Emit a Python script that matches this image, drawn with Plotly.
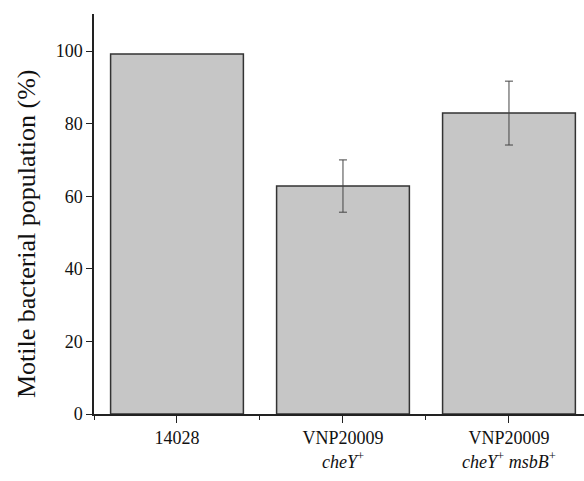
import plotly.graph_objects as go

categories = ["14028", "VNP20009<br><i>cheY</i><sup>+</sup>", "VNP20009<br><i>cheY</i><sup>+</sup> <i>msbB</i><sup>+</sup>"]
values = [99.2, 62.8, 82.9]
errors = [0, 7.2, 8.8]
yticks = [0, 20, 40, 60, 80, 100]

xpos = list(range(len(categories)))

fig = go.Figure()
fig.add_trace(go.Bar(
    x=xpos, y=values, width=0.8,
    marker=dict(color="#c6c6c6", line=dict(color="#333333", width=1.5)),
))
ex = [x for x, e in zip(xpos, errors) if e > 0]
ey = [v for v, e in zip(values, errors) if e > 0]
ee = [e for e in errors if e > 0]
fig.add_trace(go.Scatter(
    x=ex, y=ey, mode="markers", marker=dict(size=1, color="rgba(0,0,0,0)"),
    error_y=dict(type="data", array=ee, visible=True, color="#444444", thickness=1, width=4),
))

fig.update_layout(
    width=584, height=481,
    margin=dict(l=94, r=0, t=14, b=67),
    plot_bgcolor="white", paper_bgcolor="white",
    font=dict(family="Liberation Serif", color="#111111", size=18),
    showlegend=False,
)
fig.update_xaxes(
    range=[-0.5, 2.452], tickvals=xpos, ticktext=categories,
    ticks="outside", ticklen=7, tickwidth=1.2, tickcolor="#222",
    showline=True, linecolor="#222", linewidth=1.5, showgrid=False, zeroline=False,
    tickfont=dict(size=18),
    minor=dict(tick0=0.5, dtick=1, ticks="outside", ticklen=4, tickwidth=1.2, tickcolor="#222"),
)
fig.update_yaxes(
    range=[0, 110.2], tickvals=yticks,
    ticks="outside", ticklen=6, tickwidth=1.2, tickcolor="#222",
    showline=True, linecolor="#222", linewidth=1.5, showgrid=False, zeroline=False,
    tickfont=dict(size=18),
)
fig.add_annotation(
    text="Motile bacterial population (%)", textangle=-90,
    xref="paper", yref="paper", x=-94/490 + 26/490, y=(414 - 234) / 400,
    xanchor="center", yanchor="middle", showarrow=False,
    font=dict(size=26, family="Liberation Serif", color="#111111"),
)
fig.write_html("out.html")
